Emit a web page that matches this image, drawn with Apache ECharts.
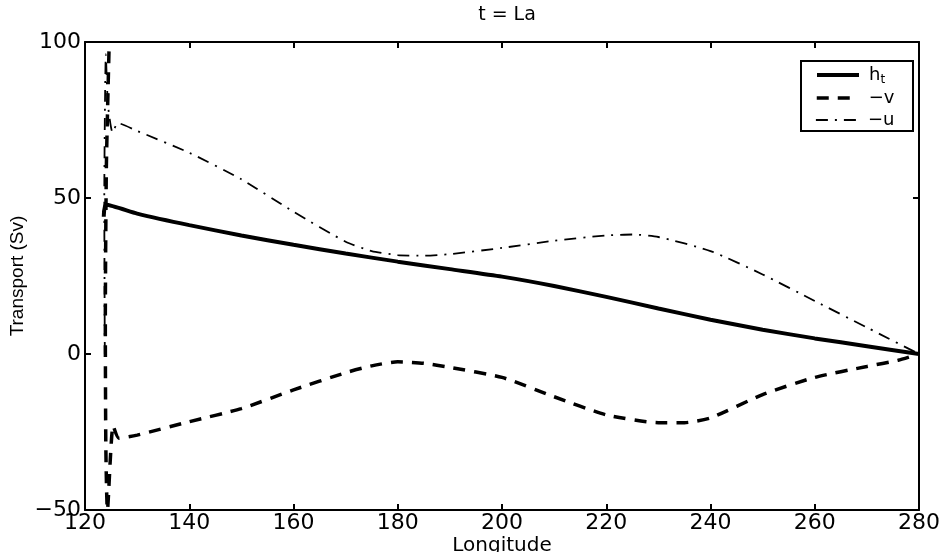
<!DOCTYPE html>
<html>
<head>
<meta charset="utf-8">
<title>t = La</title>
<script src="https://cdn.jsdelivr.net/npm/echarts@6/dist/echarts.min.js"></script>
<style>
  html, body { margin: 0; padding: 0; background: #fff; }
  #chart { width: 941px; height: 552px; }
</style>
</head>
<body>
<div id="chart"></div>
<script>
// longitude / transport values
var lonH = [123.6, 124, 130, 140, 150, 160, 170, 180, 190, 200, 210, 220, 230, 240, 250, 260, 270, 280];
var hT   = [44, 47.8, 45, 41.3, 38, 35, 32.2, 29.6, 27.2, 24.8, 21.8, 18.3, 14.6, 11, 7.8, 5, 2.5, 0];

var lonV = [124.6, 124.1, 123.9, 124.0, 124.3, 125.4, 126.5, 130, 140, 150, 160, 170, 175, 180, 185, 190, 200, 210, 220, 230, 235, 240, 250, 260, 270, 276, 280];
var negV = [97, 60, 10, -30, -50, -23, -27, -26, -21.7, -17.5, -11.5, -6, -3.8, -2.5, -3, -4.3, -7.5, -13.7, -19.5, -22, -22, -20.5, -13, -7.5, -4, -2, 0];

var lonU = [123.8, 123.7, 124.0, 124.4, 125.3, 126.3, 130, 140, 150, 160, 170, 175, 180, 185, 190, 200, 210, 220, 225, 230, 240, 250, 260, 270, 280];
var negU = [0, 50, 96, 80, 71, 74, 71.5, 64.5, 56, 45.6, 36, 33, 31.7, 31.5, 32, 34, 36.3, 38, 38.3, 37.5, 33, 25.5, 17, 8.5, 0];

var names = ['h_t', '\u2212v', '\u2212u'];

var xTicks = [120, 280, 20];   // min, max, step
var yTicks = [-50, 100, 50];

function pairs(xs, ys) {
    var out = [];
    for (var i = 0; i < xs.length; i++) out.push([xs[i], ys[i]]);
    return out;
}

var font = 'DejaVu Sans, Liberation Sans, Arial, sans-serif';

var lineH = { color: '#000', width: 4, type: 'solid' };
var lineV = { color: '#000', width: 3.5, type: [12, 9] };
var lineU = { color: '#000', width: 1.8, type: [12, 7, 2, 7] };
var styles = [lineH, lineV, lineU];

var baseAxis = {
    axisLine: { show: true, onZero: false, lineStyle: { color: '#000', width: 2 } },
    axisTick: { show: true, inside: true, length: 6, lineStyle: { color: '#000', width: 2 } },
    splitLine: { show: false }
};

// one legend per row so the rows sit where the reference has them
var legendTops = [66, 89, 111];
var legends = names.map(function (n, i) {
    return {
        orient: 'vertical',
        left: 815, top: legendTops[i], z: 20,
        padding: 0,
        itemWidth: 42, itemHeight: 14,
        itemStyle: { opacity: 0 },
        textStyle: {
            color: '#000', fontSize: 18, fontFamily: font, padding: [0, 0, 0, 5],
            rich: { sub: { fontSize: 12, fontFamily: font, padding: [10, 0, 0, 0] } }
        },
        formatter: function (name) {
            if (name === 'h_t') return 'h{sub|t}';
            return name;
        },
        data: [{ name: n, lineStyle: styles[i] }]
    };
});

var myChart = echarts.init(document.getElementById('chart'), null, { renderer: 'canvas' });

var option = {
    animation: false,
    backgroundColor: '#fff',
    color: ['#000', '#000', '#000'],
    title: {
        text: 't = La',
        left: 502, top: 1, textAlign: 'center',
        textStyle: { color: '#000', fontSize: 19, fontWeight: 'normal', fontFamily: font }
    },
    grid: { left: 85, right: 22, top: 42, bottom: 42, containLabel: false, outerBoundsMode: 'none' },
    graphic: [{
        type: 'rect', left: 800, top: 60, z: 10,
        shape: { width: 112, height: 70 },
        style: { fill: '#fff', stroke: '#000', lineWidth: 2 }
    }],
    legend: legends,
    xAxis: [
        Object.assign({}, baseAxis, {
            type: 'value', min: xTicks[0], max: xTicks[1], interval: xTicks[2],
            name: 'Longitude', nameLocation: 'middle', nameGap: 26, nameMoveOverlap: false,
            nameTextStyle: { color: '#000', fontSize: 20, fontFamily: font },
            axisLabel: { color: '#000', fontSize: 22, fontFamily: font, margin: 2 }
        }),
        Object.assign({}, baseAxis, {
            type: 'value', position: 'top', min: xTicks[0], max: xTicks[1], interval: xTicks[2],
            axisLabel: { show: false }
        })
    ],
    yAxis: [
        Object.assign({}, baseAxis, {
            type: 'value', min: yTicks[0], max: yTicks[1], interval: yTicks[2],
            name: 'Transport (Sv)', nameLocation: 'middle', nameGap: 58, nameRotate: 90,
            nameMoveOverlap: false,
            nameTextStyle: { color: '#000', fontSize: 19, fontFamily: 'Liberation Sans, Arial, sans-serif' },
            axisLabel: {
                color: '#000', fontSize: 22, fontFamily: font, margin: 4,
                formatter: function (v) { return String(v).replace('-', '\u2212'); }
            }
        }),
        Object.assign({}, baseAxis, {
            type: 'value', position: 'right', min: yTicks[0], max: yTicks[1], interval: yTicks[2],
            axisLabel: { show: false }
        })
    ],
    series: [
        {
            name: names[0], type: 'line', symbol: 'none', smooth: 0.2,
            data: pairs(lonH, hT),
            lineStyle: lineH
        },
        {
            name: names[1], type: 'line', symbol: 'none', smooth: 0.2,
            data: pairs(lonV, negV),
            lineStyle: lineV
        },
        {
            name: names[2], type: 'line', symbol: 'none', smooth: 0.2,
            data: pairs(lonU, negU),
            lineStyle: lineU
        }
    ]
};

myChart.setOption(option);
</script>
</body>
</html>
